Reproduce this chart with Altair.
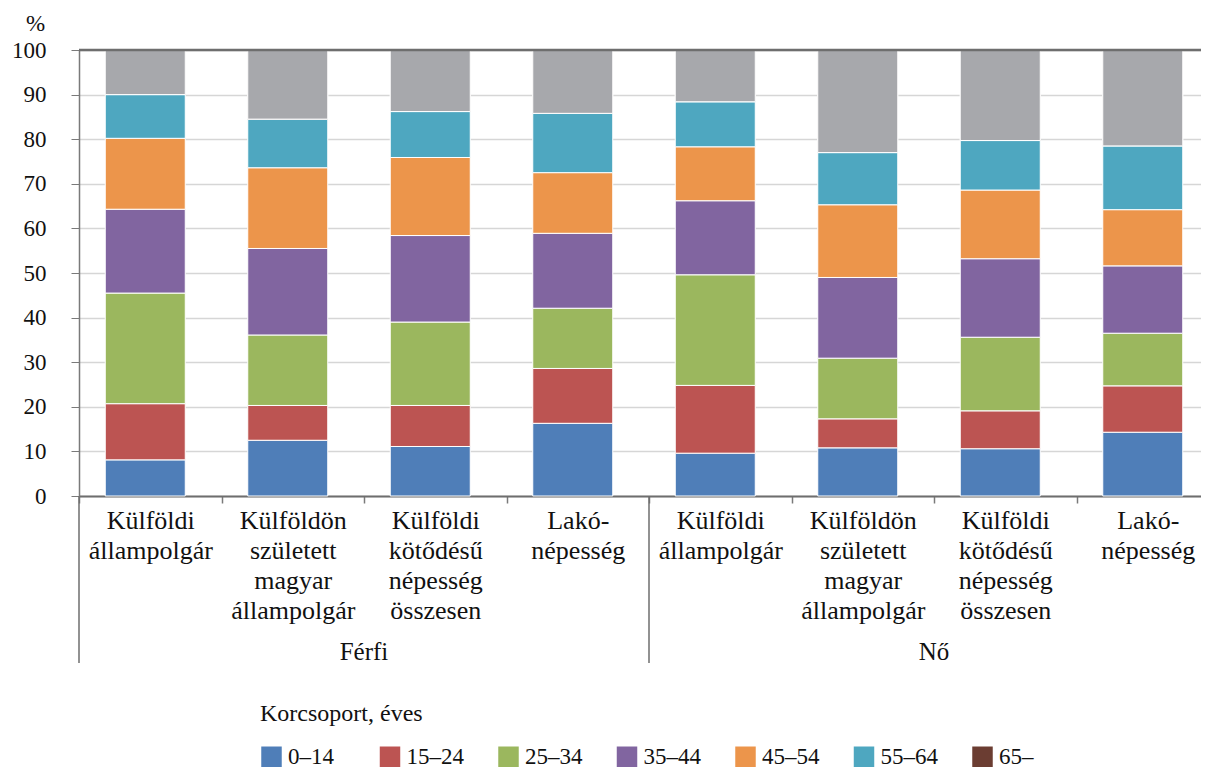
import altair as alt
import pandas as pd

FONT = "Liberation Serif"

groups = ["Férfi", "Férfi", "Férfi", "Férfi", "Nő", "Nő", "Nő", "Nő"]
categories = [
    "Külföldi|állampolgár",
    "Külföldön|született|magyar|állampolgár",
    "Külföldi|kötődésű|népesség|összesen",
    "Lakó-|népesség",
] * 2
ages = ["0–14", "15–24", "25–34", "35–44", "45–54", "55–64", "65–"]

v_0_14 = [8.1, 12.5, 11.1, 16.3, 9.6, 10.8, 10.6, 14.3]
v_15_24 = [12.6, 7.8, 9.2, 12.3, 15.2, 6.5, 8.5, 10.4]
v_25_34 = [24.8, 15.8, 18.7, 13.5, 24.8, 13.6, 16.5, 11.8]
v_35_44 = [18.8, 19.4, 19.4, 16.8, 16.6, 18.1, 17.6, 15.1]
v_45_54 = [15.9, 18.1, 17.5, 13.6, 12.1, 16.3, 15.4, 12.6]
v_55_64 = [9.8, 10.9, 10.3, 13.3, 10.1, 11.7, 11.1, 14.3]
v_65 = [10.0, 15.5, 13.8, 14.2, 11.6, 23.0, 20.3, 21.5]
series = [v_0_14, v_15_24, v_25_34, v_35_44, v_45_54, v_55_64, v_65]

legend_colors = ["#4F7EB8", "#BC5452", "#9BB75E", "#8165A0", "#EC954B", "#4EA7C0", "#6B3D32"]
old_age_bar_color = "#A7A8AC"

keys = [f"{i}|{c}" for i, c in enumerate(categories)]

rows = []
for ai, (age, vals) in enumerate(zip(ages, series)):
    for k, g, v in zip(keys, groups, vals):
        rows.append({"key": k, "group": g, "age": age, "idx": ai, "value": v})
df = pd.DataFrame(rows)

group_df = pd.DataFrame({"key": [keys[2], keys[6]], "group": ["Férfi", "Nő"]})
sep_df = pd.DataFrame({"key": [keys[0], keys[4]]})

W, H = 1122, 446
xscale = alt.Scale(domain=keys, range=[0, 1140], paddingInner=0, paddingOuter=0)
yscale = alt.Scale(domain=[0, 100], nice=False)

x_axis = alt.Axis(
    title=None,
    labelExpr="slice(split(datum.label, '|'), 1)",
    labelFont=FONT, labelFontSize=26, labelLineHeight=30, labelColor="#111111",
    labelAngle=0, labelPadding=4, labelLimit=0,
    tickBand="extent", tickSize=7, tickColor="#7a7a7a", tickWidth=1.5,
    domainColor="#6e6e6e", domainWidth=2, grid=False,
)
y_axis = alt.Axis(
    values=list(range(0, 101, 10)), title="%", titleAngle=0, titleX=-44, titleY=-27,
    titleAlign="center", titleBaseline="middle", titleFont=FONT, titleFontSize=23,
    titleFontWeight="normal", titleColor="#111111",
    labelFont=FONT, labelFontSize=23, labelColor="#111111", labelPadding=25,
    tickSize=8, tickColor="#7a7a7a", domainColor="#7a7a7a", domainWidth=1.5,
    gridColor="#D6D6D6", gridWidth=1.5,
)

base = alt.Chart(df).transform_stack(
    stack="value", as_=["y0", "y1"], groupby=["key"],
    sort=[alt.SortField("idx", order="ascending")],
)

bars = base.mark_bar(size=80, xOffset=-5, stroke="white", strokeWidth=1).encode(
    x=alt.X("key:N", scale=xscale, axis=x_axis, sort=keys),
    y=alt.Y("y0:Q", scale=yscale, axis=y_axis),
    y2="y1:Q",
    color=alt.Color(
        "age:N",
        scale=alt.Scale(domain=ages, range=legend_colors),
        legend=alt.Legend(
            title="Korcsoport, éves", orient="none", legendX=181, legendY=652,
            direction="horizontal", columns=7, gridAlign="all",
            titleFont=FONT, titleFontSize=24, titleFontWeight="normal", titleColor="#111111",
            titlePadding=19, labelFont=FONT, labelFontSize=23, labelColor="#111111",
            symbolType="square", symbolSize=420, symbolStrokeWidth=0, symbolOpacity=1,
            labelOffset=5, columnPadding=32.5,
        ),
    ),
)

old_bars = base.transform_filter(alt.datum.age == ages[-1]).mark_bar(
    size=80, xOffset=-5, stroke="white", strokeWidth=1, color=old_age_bar_color
).encode(
    x=alt.X("key:N", scale=xscale, sort=keys),
    y=alt.Y("y0:Q", scale=yscale),
    y2="y1:Q",
)

top_rule = alt.Chart(pd.DataFrame({"v": [100]})).mark_rule(color="#6e6e6e", strokeWidth=2.5).encode(
    y=alt.Y("v:Q", scale=yscale)
)

seps = alt.Chart(sep_df).mark_rule(color="#6e6e6e", strokeWidth=1.5).encode(
    x=alt.X("key:N", scale=xscale, bandPosition=0, sort=keys),
    y=alt.value(H),
    y2=alt.value(H + 167),
)

group_text = alt.Chart(group_df).mark_text(
    font=FONT, fontSize=25, color="#111111", baseline="middle", align="center"
).encode(
    x=alt.X("key:N", scale=xscale, bandPosition=0, sort=keys),
    y=alt.value(H + 156),
    text="group:N",
)

chart = alt.layer(bars, old_bars, top_rule, seps, group_text).properties(
    width=W, height=H,
    autosize=alt.AutoSizeParams(type="none"),
    padding={"left": 71, "top": 42, "right": 0, "bottom": 272},
    background="white",
).configure(font=FONT).configure_view(stroke=None)

chart.save("out.html", embed_options={"renderer": "svg", "actions": False})
